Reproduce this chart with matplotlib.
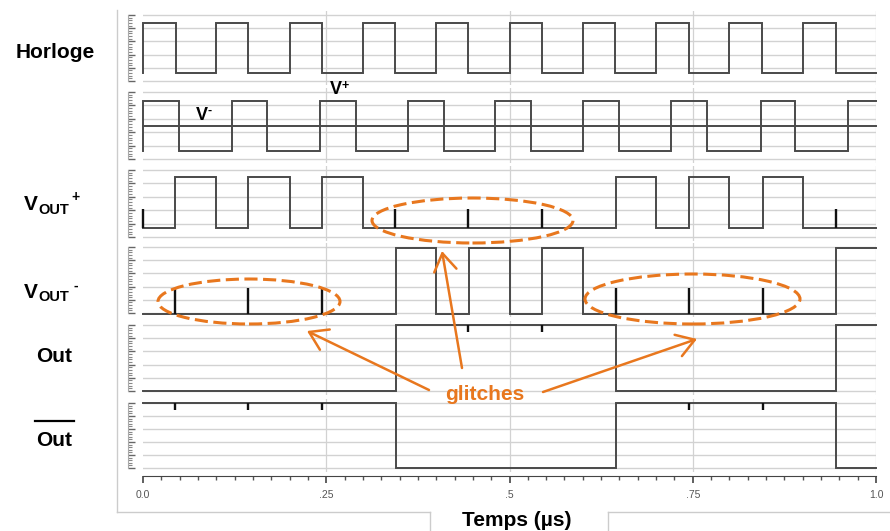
import matplotlib
matplotlib.use('Agg')
import matplotlib.pyplot as plt
from matplotlib.patches import Ellipse, FancyArrowPatch
from matplotlib.lines import Line2D
import numpy as np

plt.rcParams['font.family'] = ['Liberation Sans', 'DejaVu Sans']

# ---------------- data (transition times in µs, logic levels) ----------------
clock_t = [0.0, 0.045, 0.1, 0.143, 0.2, 0.244, 0.3, 0.344, 0.4, 0.443,
           0.5, 0.544, 0.6, 0.644, 0.7, 0.745, 0.8, 0.845, 0.9, 0.945]
clock_v = [1, 0, 1, 0, 1, 0, 1, 0, 1, 0, 1, 0, 1, 0, 1, 0, 1, 0, 1, 0]

vplus_t = [0.0, 0.049, 0.121, 0.169, 0.241, 0.29, 0.361, 0.41, 0.48,
           0.529, 0.6, 0.65, 0.72, 0.77, 0.843, 0.89, 0.962]
vplus_v = [1, 0, 1, 0, 1, 0, 1, 0, 1, 0, 1, 0, 1, 0, 1, 0, 1]
vminus_level = 0.5

voutp_t = [0.0, 0.044, 0.1, 0.143, 0.2, 0.244, 0.3, 0.645, 0.7, 0.745, 0.8, 0.846, 0.9]
voutp_v = [0, 1, 0, 1, 0, 1, 0, 1, 0, 1, 0, 1, 0]
voutp_glitch_t = [0.0, 0.344, 0.443, 0.544, 0.945]
voutp_glitch_h = 0.37

voutm_t = [0.0, 0.345, 0.4, 0.445, 0.5, 0.544, 0.6, 0.945]
voutm_v = [0, 1, 0, 1, 0, 1, 0, 1]
voutm_glitch_t = [0.044, 0.143, 0.244, 0.645, 0.745, 0.846]
voutm_glitch_h = 0.39

out_t = [0.0, 0.345, 0.645, 0.945]
out_v = [0, 1, 0, 1]
out_glitch_t = [0.443, 0.544]

outb_t = [0.0, 0.345, 0.645, 0.945]
outb_v = [1, 0, 1, 0]
outb_glitch_t = [0.044, 0.143, 0.244, 0.745, 0.846]
out_glitch_d = 0.1

xtick_vals = [0.0, 0.25, 0.5, 0.75, 1.0]
xtick_labels = ['0.0', '.25', '.5', '.75', '1.0']

# ---------------- layout ----------------
W, H = 890, 531
fig = plt.figure(figsize=(W / 100, H / 100), dpi=100)
fig.patch.set_facecolor('white')
ORANGE = '#E8771E'
SIG = '#4a4a4a'
GRID = '#d2d2d2'

x0, x1 = 143, 876
# grid top, grid bottom, signal high, signal low (pixels)
panels = [
    (15, 81, 23, 73),
    (92, 159, 101, 151),
    (170, 237, 177, 228),
    (247, 313, 248, 314),
    (325, 391, 325, 391),
    (403, 468, 403, 468),
]


def step_xy(times, levels, start=None, tend=1.0):
    xs, ys = [], []
    if start is not None:
        xs.append(times[0]); ys.append(start)
    for i, (t, v) in enumerate(zip(times, levels)):
        xs.append(t); ys.append(v)
        tn = times[i + 1] if i + 1 < len(times) else tend
        xs.append(tn); ys.append(v)
    return xs, ys


axes = []
for i, (gt, gb, sh, sl) in enumerate(panels):
    top, bot = gt - 4, gb + 4
    ax = fig.add_axes([x0 / W, 1 - bot / H, (x1 - x0) / W, (bot - top) / H])
    span = sl - sh
    ax.set_ylim(-(bot - sl) / span, 1 + (sh - top) / span)
    ax.set_xlim(0, 1)
    gridvals = [(sl - p) / span for p in np.linspace(gt, gb, 6)]
    minorvals = [(sl - p) / span for p in np.linspace(gt, gb, 26)]
    for g in gridvals:
        ax.axhline(g, color=GRID, lw=1.0, zorder=0)
    for xv in [0.25, 0.5, 0.75, 1.0]:
        ax.axvline(xv, color=GRID, lw=0.9, zorder=0)
    for s in ['top', 'right', 'bottom']:
        ax.spines[s].set_visible(False)
    ax.spines['left'].set_position(('outward', 11))
    ax.spines['left'].set_color('#aaaaaa')
    ax.spines['left'].set_bounds(min(gridvals), max(gridvals))
    ax.set_yticks(gridvals)
    ax.set_yticks(minorvals, minor=True)
    ax.tick_params(axis='y', which='major', direction='in', length=5, width=1,
                   color='#666666', labelleft=False)
    ax.tick_params(axis='y', which='minor', direction='in', length=3, width=0.8,
                   color='#888888')
    ax.set_xticks([])
    ax.patch.set_alpha(0)
    axes.append(ax)

lk = dict(color=SIG, lw=1.4, clip_on=False, solid_joinstyle='miter')
gk = dict(color='#111111', lw=1.7, clip_on=False)

# Horloge
xs, ys = step_xy(clock_t, clock_v, start=0)
axes[0].plot(xs, ys, **lk)
# V+ / V-
xs, ys = step_xy(vplus_t, vplus_v, start=0)
axes[1].plot(xs, ys, **lk)
axes[1].plot([0, 1], [vminus_level, vminus_level], **lk)
# VOUT+
xs, ys = step_xy(voutp_t, voutp_v)
axes[2].plot(xs, ys, **lk)
axes[2].vlines(voutp_glitch_t, 0, voutp_glitch_h, **gk)
# VOUT-
xs, ys = step_xy(voutm_t, voutm_v)
axes[3].plot(xs, ys, **lk)
axes[3].vlines(voutm_glitch_t, 0, voutm_glitch_h, **gk)
# Out
xs, ys = step_xy(out_t, out_v)
axes[4].plot(xs, ys, **lk)
axes[4].vlines(out_glitch_t, 1, 1 - out_glitch_d, **gk)
# Out bar
xs, ys = step_xy(outb_t, outb_v)
axes[5].plot(xs, ys, **lk)
axes[5].vlines(outb_glitch_t, 1, 1 - out_glitch_d, **gk)

# bottom time axis
axb = axes[5]
axb.spines['bottom'].set_visible(True)
axb.spines['bottom'].set_position(('outward', 3))
axb.spines['bottom'].set_color('#444444')
axb.set_xticks(xtick_vals)
axb.set_xticklabels(xtick_labels)
axb.set_xticks(np.arange(0, 1.0001, 0.025), minor=True)
axb.tick_params(axis='x', which='major', direction='out', length=5, width=1.2,
                color='#444444', labelsize=7.5, labelcolor='#555555', pad=5)
axb.tick_params(axis='x', which='minor', direction='out', length=3, width=1,
                color='#555555')


def f(x, y):
    return (x / W, 1 - y / H)


def txt(x, y, s, size, ha='left', color='black'):
    fig.text(*f(x, y), s, ha=ha, va='center', fontsize=size, fontweight='bold', color=color)


# outer frame
for (xa, ya, xb, yb) in [(117, 10, 117, 512), (117, 512, 430, 512), (430, 512, 430, 531),
                         (608, 512, 608, 531), (608, 512, 890, 512)]:
    fig.add_artist(Line2D([xa / W, xb / W], [1 - ya / H, 1 - yb / H],
                          transform=fig.transFigure, color='#cccccc', lw=1))

# left labels
txt(55, 52, 'Horloge', 15, ha='center')
# V_OUT^+
txt(24, 205, 'V', 15)
txt(38.5, 210, 'OUT', 10.5)
txt(71, 197, '+', 10)
# V_OUT^-
txt(24, 292, 'V', 15)
txt(38.5, 297, 'OUT', 10.5)
txt(73, 286, '-', 10)
txt(54, 357, 'Out', 15, ha='center')
txt(54, 440, 'Out', 15, ha='center')
fig.add_artist(Line2D([35 / W, 74 / W], [1 - 421 / H, 1 - 421 / H],
                      transform=fig.transFigure, color='black', lw=1.6))

# V- / V+ labels
txt(196, 115, 'V', 13)
txt(208, 111, '-', 9)
txt(330, 90, 'V', 13)
txt(342, 86, '+', 9)

# x label
txt(517, 520, 'Temps (µs)', 15, ha='center')

# annotations
for (cx, cy, ew, eh) in [(472.5, 220.5, 201, 45), (249, 301.5, 182, 45), (692.5, 299, 215, 50)]:
    fig.add_artist(Ellipse(f(cx, cy), ew / W, eh / H, transform=fig.transFigure,
                           fill=False, ec=ORANGE, lw=2.2, ls=(0, (4.3, 1.8))))

for (tail, tip) in [((462, 368), (442, 251)), ((429, 390), (307, 331)), ((543, 392), (697, 339))]:
    fig.add_artist(FancyArrowPatch(f(*tail), f(*tip), transform=fig.transFigure,
                                   arrowstyle='->,head_length=0.7,head_width=0.45',
                                   mutation_scale=18, color=ORANGE, lw=1.8,
                                   shrinkA=0, shrinkB=0))

txt(485, 394, 'glitches', 15, ha='center', color=ORANGE)

fig.savefig('out.png', dpi=100)
